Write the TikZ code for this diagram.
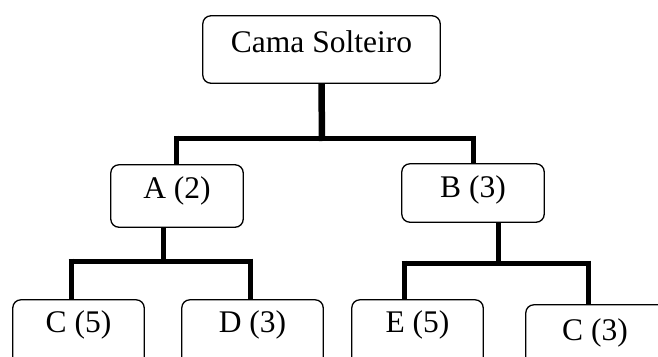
\documentclass[tikz,border=0pt]{standalone}
\usepackage{fontspec}
\setmainfont{Liberation Serif}
\begin{document}
\begin{tikzpicture}[x=1pt,y=-1pt,
  box/.style={draw=black,line width=1.3pt,rounded corners=8pt,fill=white},
  lbl/.style={anchor=base,inner sep=0pt,font=\fontsize{31.5}{36}\selectfont},
  conn/.style={line width=5pt,line cap=butt}]
\useasboundingbox (0,0) rectangle (658,356);
\clip (0,0) rectangle (658,356);
% box frames (named nodes)
\node[inner sep=0pt,minimum width=237pt,minimum height=67pt] (top) at (321.5,49.5) {};
\node[inner sep=0pt,minimum width=132pt,minimum height=62pt] (A) at (177,196) {};
\node[inner sep=0pt,minimum width=142pt,minimum height=58pt] (B) at (473,193) {};
\node[inner sep=0pt,minimum width=131pt,minimum height=90pt] (C5) at (78.5,345) {};
\node[inner sep=0pt,minimum width=141pt,minimum height=90pt] (D3) at (252.5,345) {};
\node[inner sep=0pt,minimum width=131pt,minimum height=90pt] (E5) at (417.5,345) {};
\node[inner sep=0pt,minimum width=160pt,minimum height=90pt] (C3) at (606,350) {};
% connectors
\coordinate (t1) at (322,138);
\coordinate (a1) at (163,261);
\coordinate (b1) at (498,263);
\draw[conn,line width=6.5pt] (top.south) -- (322,141);
\draw[conn] (176,138) -- (473,138);
\draw[conn] (176,135.5) -- (A.north -| 176,0);
\draw[conn] (473,135.5) -- (B.north -| 473,0);
\draw[conn] (A.south -| a1) -- (163,263.5);
\draw[conn] (68.5,261) -- (252.5,261);
\draw[conn] (71,258.5) -- (C5.north -| 71,0);
\draw[conn] (250,258.5) -- (D3.north -| 250,0);
\draw[conn] (B.south -| b1) -- (498,265.5);
\draw[conn] (401.5,263) -- (590.5,263);
\draw[conn] (404,260.5) -- (E5.north -| 404,0);
\draw[conn] (588,260.5) -- (C3.north -| 588,0);
% box outlines
\draw[box] (top.north west) rectangle (top.south east);
\draw[box] (A.north west) rectangle (A.south east);
\draw[box] (B.north west) rectangle (B.south east);
\draw[box] (C5.north west) rectangle (C5.south east);
\draw[box] (D3.north west) rectangle (D3.south east);
\draw[box] (E5.north west) rectangle (E5.south east);
\draw[box] (C3.north west) rectangle (C3.south east);
% labels
\node[lbl] (ttop) at (321.5,52) {Cama Solteiro};
\node[lbl] (tA) at (177,198) {A (2)};
\node[lbl] (tB) at (473,197) {B (3)};
\node[lbl] (tC5) at (78.5,332) {C (5)};
\node[lbl] (tD3) at (252.5,332) {D (3)};
\node[lbl] (tE5) at (417.5,332) {E (5)};
\node[lbl] (tC3) at (595,340) {C (3)};
\end{tikzpicture}
\end{document}
